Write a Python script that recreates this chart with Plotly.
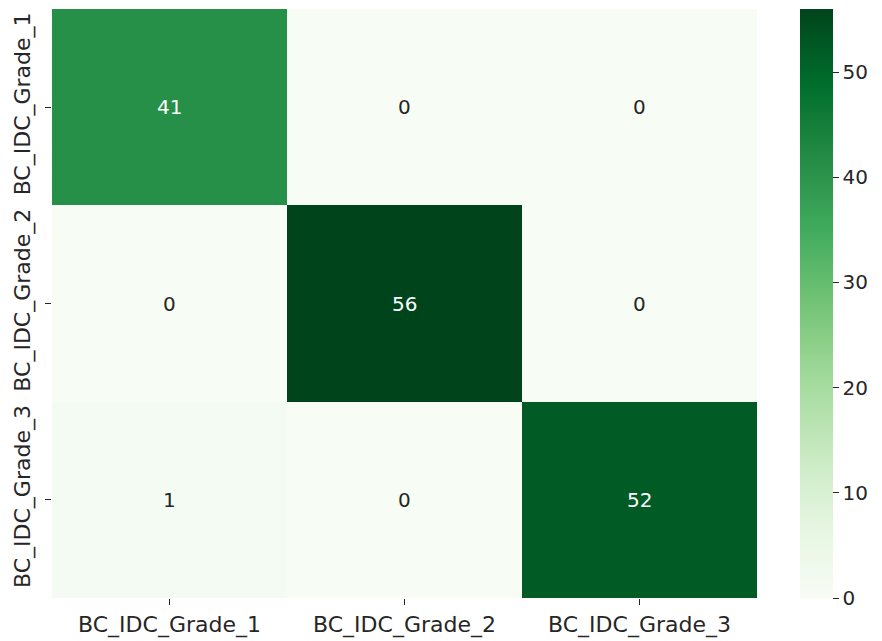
import plotly.graph_objects as go

# Confusion matrix of IDC grade predictions
classes = ["BC_IDC_Grade_1", "BC_IDC_Grade_2", "BC_IDC_Grade_3"]
row_grade_1 = [41, 0, 0]
row_grade_2 = [0, 56, 0]
row_grade_3 = [1, 0, 52]
counts = [row_grade_1, row_grade_2, row_grade_3]
colorbar_ticks = [0, 10, 20, 30, 40, 50]

greens = [
    [0.0, "rgb(247,252,245)"], [0.125, "rgb(229,245,224)"], [0.25, "rgb(199,233,192)"],
    [0.375, "rgb(161,217,155)"], [0.5, "rgb(116,196,118)"], [0.625, "rgb(65,171,93)"],
    [0.75, "rgb(35,139,69)"], [0.875, "rgb(0,109,44)"], [1.0, "rgb(0,68,27)"],
]

zmax = max(max(r) for r in counts)
font_family = "DejaVu Sans"
text_dark = "#262626"

fig = go.Figure(go.Heatmap(
    z=counts, x=classes, y=classes,
    colorscale=greens, zmin=0, zmax=zmax,
    xgap=0, ygap=0,
    colorbar=dict(
        thickness=33, len=1, lenmode="fraction", y=0.5, yanchor="middle",
        x=1.061, xanchor="left", xref="paper", xpad=0, ypad=0, outlinewidth=0,
        tickvals=colorbar_ticks, ticks="outside", ticklen=6, tickwidth=1.2,
        tickcolor=text_dark, tickfont=dict(family=font_family, size=20, color=text_dark),
    ),
    hoverinfo="skip",
))

# Cell labels: light text on dark cells, dark text on light cells
for i, row in enumerate(counts):
    for j, v in enumerate(row):
        fig.add_annotation(
            x=classes[j], y=classes[i], text=str(v), showarrow=False,
            font=dict(family=font_family, size=20,
                      color="white" if v > zmax * 0.5 else text_dark),
        )

fig.update_layout(
    width=882, height=641,
    margin=dict(l=52, r=125, t=9, b=43),
    paper_bgcolor="white", plot_bgcolor="white",
    font=dict(family=font_family, color=text_dark),
)
fig.update_xaxes(
    showgrid=False, zeroline=False, showline=False, automargin=False,
    ticks="outside", ticklen=6, tickwidth=1.2, tickcolor=text_dark,
    ticklabelstandoff=1,
    tickfont=dict(family=font_family, size=22, color=text_dark),
)
fig.update_yaxes(
    showgrid=False, zeroline=False, showline=False, autorange="reversed", automargin=False,
    ticks="outside", ticklen=6, tickwidth=1.2, tickcolor=text_dark, tickangle=-90,
    ticklabelstandoff=6,
    tickfont=dict(family=font_family, size=22, color=text_dark),
)

fig.write_html("out.html")
